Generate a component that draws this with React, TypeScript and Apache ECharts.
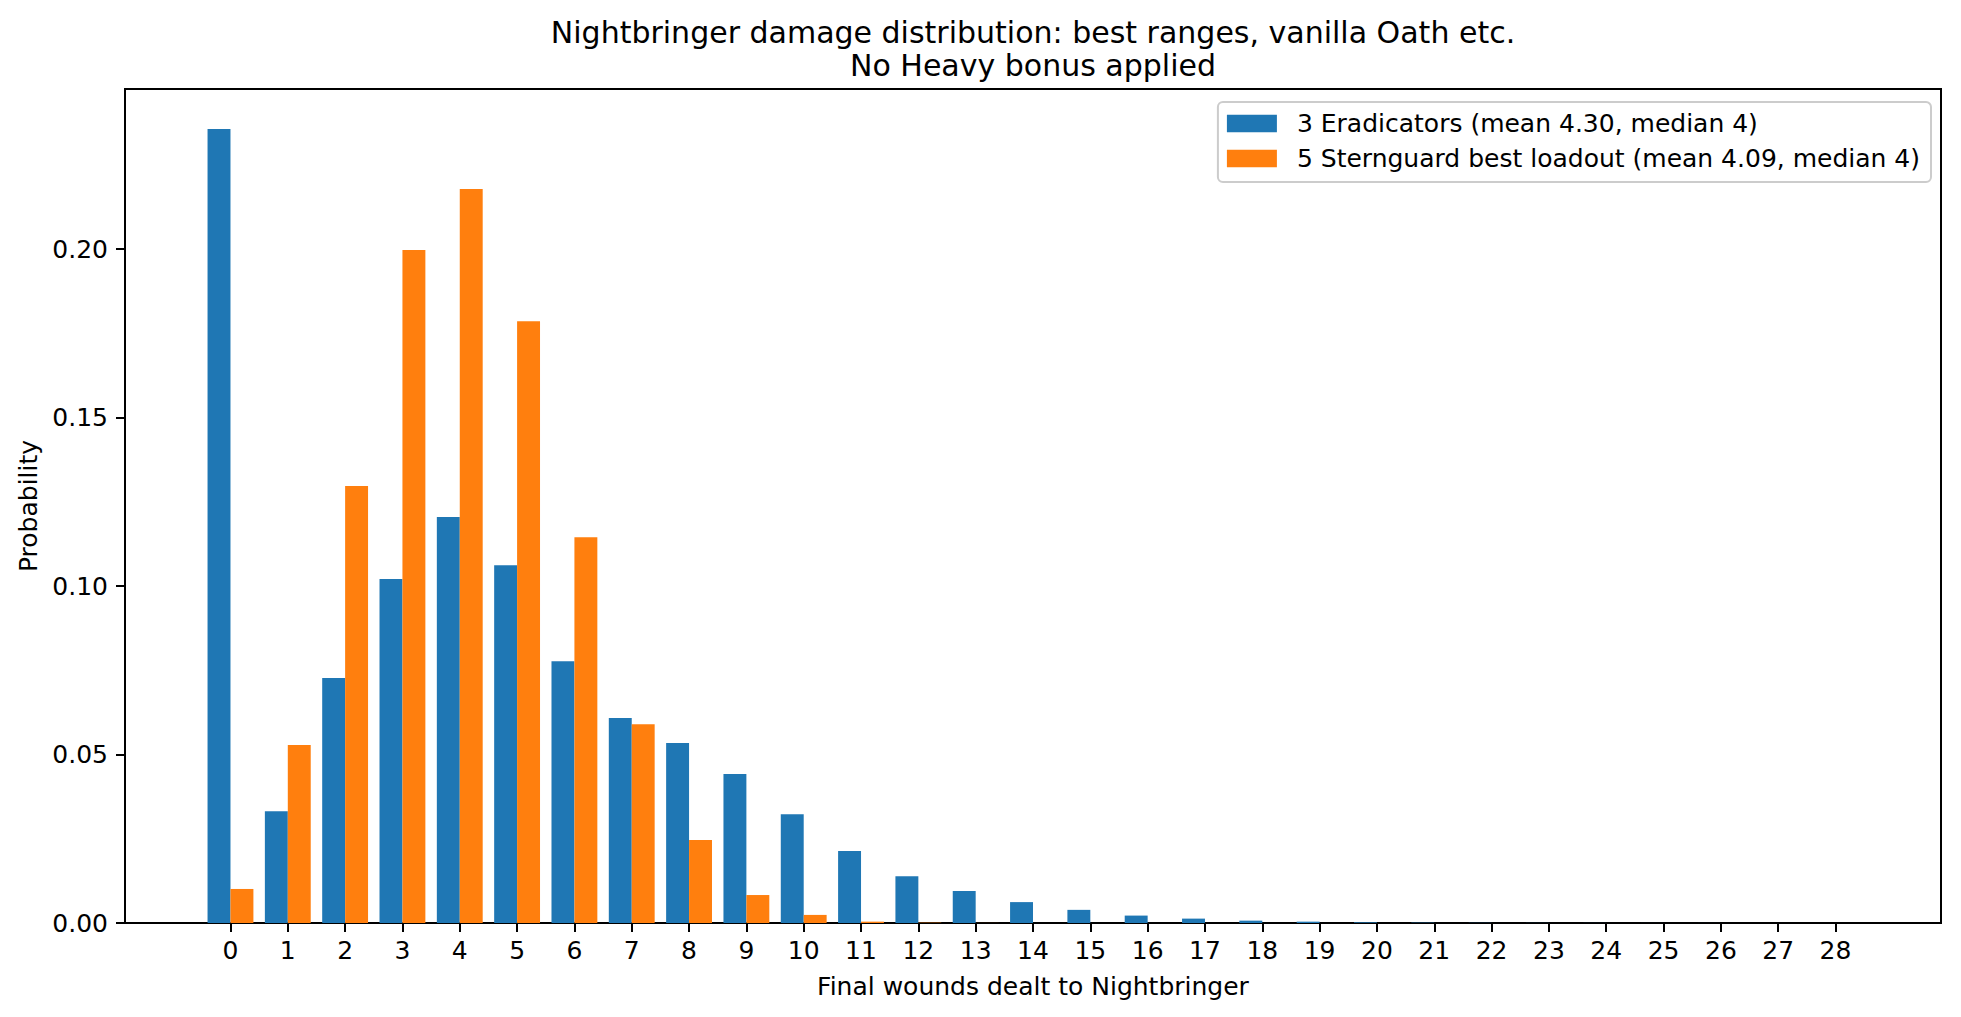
import React, { useEffect, useRef } from "react";
import * as echarts from "echarts";

const wounds = [0, 1, 2, 3, 4, 5, 6, 7, 8, 9, 10, 11, 12, 13, 14, 15, 16, 17, 18, 19, 20, 21, 22, 23, 24, 25, 26, 27, 28];
const eradicators = [
  0.2356, 0.0332, 0.0727, 0.1021, 0.1205, 0.1062, 0.0777, 0.0608, 0.0534, 0.0442,
  0.0323, 0.0214, 0.0139, 0.0095, 0.0062, 0.0039, 0.0022, 0.0013, 0.0007, 0.0004,
  0.0002, 0.0001, 0.00005, 0.00003, 0.00002, 0.00001, 0.00001, 0.000005, 0.000002,
];
const sternguard = [
  0.0101, 0.0528, 0.1297, 0.1997, 0.2178, 0.1786, 0.1145, 0.059, 0.0246, 0.0083,
  0.0024, 0.0004, 0.0001, 0.00002, 0, 0, 0, 0, 0, 0,
  0, 0, 0, 0, 0, 0, 0, 0, 0,
];
const yTicks = [0, 0.05, 0.1, 0.15, 0.2];
const seriesNames = [
  "3 Eradicators (mean 4.30, median 4)",
  "5 Sternguard best loadout (mean 4.09, median 4)",
];
const colors = ["#1f77b4", "#ff7f0e"];
const titleLines = [
  "Nightbringer damage distribution: best ranges, vanilla Oath etc.",
  "No Heavy bonus applied",
];

const FONT = "DejaVu Sans";
const FS = 25;
const LW = 2;

export default function App() {
  const ref = useRef<HTMLDivElement>(null);
  useEffect(() => {
    document.body.style.margin = "0";
    const chart = echarts.init(ref.current!, null, { renderer: "svg" });
    const makeSeries = (idx: number, values: number[], offset: number) => ({
      type: "custom",
      name: seriesNames[idx],
      itemStyle: { color: colors[idx] },
      clip: true,
      data: wounds.map((w, i) => [w, values[i]]),
      encode: { x: 0, y: 1 },
      renderItem: (params: any, api: any) => {
        const x = api.value(0);
        const y = api.value(1);
        const p1 = api.coord([x + offset, y]);
        const p2 = api.coord([x + offset + 0.4, 0]);
        return {
          type: "rect",
          shape: { x: p1[0], y: p1[1], width: p2[0] - p1[0], height: p2[1] - p1[1] },
          style: { fill: colors[idx] },
        };
      },
    });
    chart.setOption({
      animation: false,
      backgroundColor: "#ffffff",
      textStyle: { fontFamily: FONT },
      graphic: [
        {
          type: "text",
          x: 1033,
          y: 32,
          style: { text: titleLines[0], font: `30px "${FONT}"`, fill: "#000", textAlign: "center", textVerticalAlign: "middle" },
        },
        {
          type: "text",
          x: 1033,
          y: 65,
          style: { text: titleLines[1], font: `30px "${FONT}"`, fill: "#000", textAlign: "center", textVerticalAlign: "middle" },
        },
      ],
      legend: {
        right: 30,
        top: 102,
        orient: "vertical",
        icon: "rect",
        itemWidth: 50,
        itemHeight: 17.5,
        itemGap: 10,
        padding: [9, 11, 11, 9],
        borderColor: "#cccccc",
        borderWidth: 2,
        borderRadius: 5,
        backgroundColor: "rgba(255,255,255,0.8)",
        textStyle: { fontFamily: FONT, fontSize: FS, color: "#000", padding: [0, 0, 0, 15] },
        data: seriesNames,
      },
      grid: {
        left: 125,
        right: 20,
        top: 89,
        bottom: 94,
        show: true,
        borderColor: "#000",
        borderWidth: LW,
        containLabel: false,
      },
      xAxis: {
        type: "value",
        min: -1.84,
        max: 29.84,
        name: "Final wounds dealt to Nightbringer",
        nameLocation: "middle",
        nameGap: 51,
        nameTextStyle: { fontFamily: FONT, fontSize: FS, color: "#000" },
        axisLine: { show: true, onZero: false, lineStyle: { color: "#000", width: LW } },
        axisTick: { show: true, length: 9, lineStyle: { color: "#000", width: LW }, customValues: wounds },
        axisLabel: { color: "#000", fontFamily: FONT, fontSize: FS, margin: 15, customValues: wounds, formatter: (v: number) => String(v) },
        splitLine: { show: false },
      },
      yAxis: {
        type: "value",
        min: 0,
        max: 0.2475,
        name: "Probability",
        nameLocation: "middle",
        nameGap: 80,
        nameTextStyle: { fontFamily: FONT, fontSize: FS, color: "#000" },
        axisLine: { show: true, onZero: false, lineStyle: { color: "#000", width: LW } },
        axisTick: { show: true, length: 9, lineStyle: { color: "#000", width: LW }, customValues: yTicks },
        axisLabel: { color: "#000", fontFamily: FONT, fontSize: FS, margin: 17, customValues: yTicks, formatter: (v: number) => v.toFixed(2) },
        splitLine: { show: false },
      },
      series: [makeSeries(0, eradicators, -0.4), makeSeries(1, sternguard, 0)],
    });
    return () => chart.dispose();
  }, []);
  return <div ref={ref} style={{ width: 1961, height: 1017 }} />;
}
